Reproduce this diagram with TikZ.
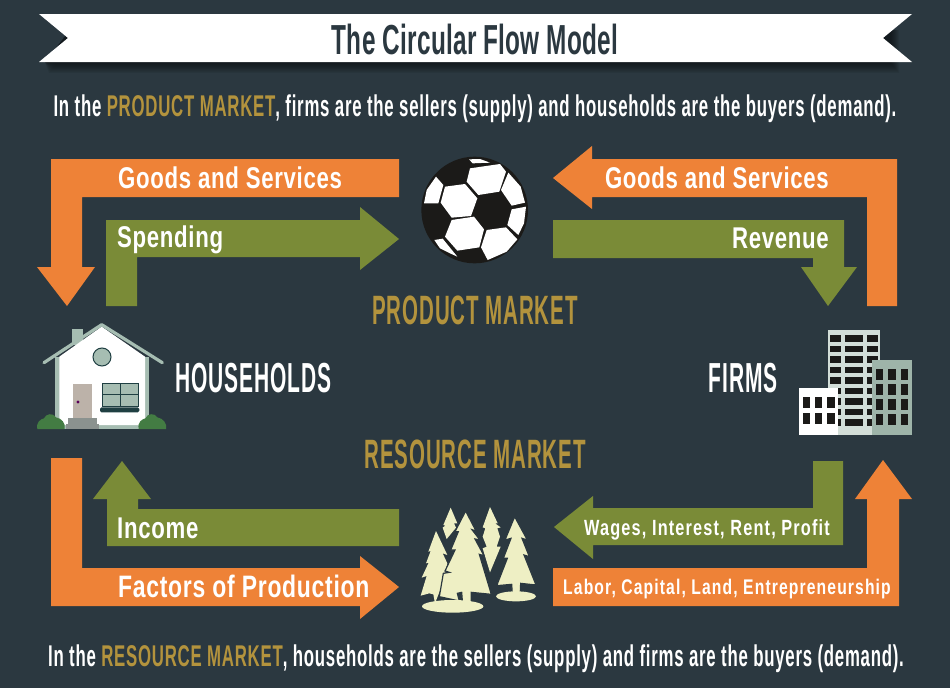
\documentclass[tikz,border=0pt]{standalone}
\usepackage{fontspec}
\setmainfont{Liberation Sans}
\newfontfamily\titlefont[FakeStretch=0.58,LetterSpace=0.6]{Liberation Sans Bold}
\newfontfamily\linefont[FakeStretch=0.56,LetterSpace=2.5]{Liberation Sans Bold}
\newfontfamily\placefont[FakeStretch=0.50,LetterSpace=2.2]{Liberation Sans Bold}
\newfontfamily\labelfont[FakeStretch=0.74,LetterSpace=2.3]{Liberation Sans Bold}
\newfontfamily\tinyfont[FakeStretch=0.74,LetterSpace=5.3]{Liberation Sans Bold}
\definecolor{bgslate}{HTML}{2B3840}
\definecolor{flowOrange}{HTML}{EE8237}
\definecolor{flowGreen}{HTML}{7A8B37}
\definecolor{marketGold}{HTML}{B3933D}
\definecolor{sage}{HTML}{A6BDB2}
\definecolor{pine}{HTML}{1F3F42}
\definecolor{cream}{HTML}{EEEFC4}
\definecolor{inkblack}{HTML}{1B1A18}
\begin{document}
\begin{tikzpicture}[x=1pt,y=-1pt,
    every node/.style={inner sep=0pt,anchor=base},
    goods/.style={fill=flowOrange},
    money/.style={fill=flowGreen},
    bigtext/.style={font=\labelfont\fontsize{30}{30}\selectfont,text=white},
    linetext/.style={font=\linefont\fontsize{30}{30}\selectfont,text=white},
    placetext/.style={font=\placefont\fontsize{42}{42}\selectfont,text=white},
    markettext/.style={font=\placefont\fontsize{41}{41}\selectfont,text=marketGold}]
 \useasboundingbox (0,0) rectangle (950,688);
 \fill[bgslate] (0,0) rectangle (950,688);
 \foreach \d in {1,...,9}
   \fill[black,opacity=.07] (70,30) -- (890+\d,30) -- (890+\d,62+\d*1.2) -- (58-\d,62+\d*1.2) -- (45,62) -- cycle;
 \fill[white] (39,14) -- (912,14) -- (883,38) -- (912,62) -- (39,62) -- (68,38) -- cycle;
 \node[font=\titlefont\fontsize{42}{42}\selectfont,text=bgslate] (title) at (475,54) {The Circular Flow Model};
 \node[linetext] (productline) at (475,116)
   {In the {\color{marketGold}PRODUCT MARKET}, firms are the sellers (supply) and households are the buyers (demand).};
 \node[linetext] (resourceline) at (476,666)
   {In the {\color{marketGold}RESOURCE MARKET}, households are the sellers (supply) and firms are the buyers (demand).};

 \fill[goods] (399,159) -- (51,159) -- (51,267) -- (37,267) -- (67,306) -- (95,267) -- (82,267) -- (82,197) -- (399,197) -- cycle;
 \fill[money] (106,306) -- (106,220) -- (360,220) -- (360,207) -- (399,239) -- (360,270) -- (360,257) -- (137,257) -- (137,306) -- cycle;
 \fill[goods] (553,178) -- (592,146) -- (592,159) -- (897,159) -- (897,306) -- (867,306) -- (867,197) -- (592,197) -- (592,209) -- cycle;
 \fill[money] (553,220) -- (844,220) -- (844,267) -- (857,267) -- (828,306) -- (801,267) -- (813,267) -- (813,258) -- (553,258) -- cycle;
 \fill[money] (122,461) -- (151,499) -- (138,499) -- (138,509) -- (399,509) -- (399,546) -- (107,546) -- (107,499) -- (93,499) -- cycle;
 \fill[goods] (51,458) -- (82,458) -- (82,568) -- (360,568) -- (360,556) -- (399,587) -- (360,619) -- (360,606) -- (51,606) -- cycle;
 \fill[money] (813,461) -- (843,461) -- (843,545) -- (593,545) -- (593,559) -- (554,527) -- (593,496) -- (593,508) -- (813,508) -- cycle;
 \fill[goods] (553,568) -- (867,568) -- (867,499) -- (855,499) -- (883,460) -- (912,499) -- (899,499) -- (899,606) -- (553,606) -- cycle;

 \node[bigtext,anchor=base west] (goodsleft) at (118,188) {Goods and Services};
 \node[bigtext,anchor=base east] (goodsright) at (829,188) {Goods and Services};
 \node[bigtext,anchor=base west] (spending) at (117,247) {Spending};
 \node[bigtext,anchor=base east] (revenue) at (829,248) {Revenue};
 \node[bigtext,anchor=base west] (income) at (117,538) {Income};
 \node[bigtext,font=\labelfont\fontsize{31}{31}\selectfont,anchor=base west] (factors) at (118,597) {Factors of Production};
 \node[bigtext,font=\tinyfont\fontsize{22}{22}\selectfont,anchor=base east] (wages) at (830,535) {Wages, Interest, Rent, Profit};
 \node[bigtext,font=\tinyfont\fontsize{21.2}{21.2}\selectfont,anchor=base east] (labor) at (891,594) {Labor, Capital, Land, Entrepreneurship};
 \node[markettext] (productmarket) at (475,324) {PRODUCT MARKET};
 \node[markettext] (resourcemarket) at (475,468) {RESOURCE MARKET};
 \node[placetext,anchor=base west] (households) at (175,392) {HOUSEHOLDS};
 \node[placetext,anchor=base east] (firms) at (778,392) {FIRMS};

 \begin{scope}[shift={(400,140)},scale=1/3]
   \fill[inkblack] (224,210) circle (160);
   \foreach \cell in {
       {(210,85) -- (300,72) -- (318,95) -- (298,155) -- (235,165) -- (200,125)},
       {(108,110) -- (130,135) -- (115,190) -- (72,190) -- (80,150)},
       {(135,140) -- (195,132) -- (232,175) -- (213,228) -- (155,233) -- (122,188)},
       {(325,98) -- (362,140) -- (375,188) -- (335,197) -- (303,150)},
       {(335,208) -- (378,200) -- (372,250) -- (355,285) -- (322,255)},
       {(155,240) -- (222,230) -- (252,268) -- (238,322) -- (172,332) -- (135,290)},
       {(260,270) -- (318,262) -- (352,298) -- (320,335) -- (263,360) -- (243,322)},
       {(103,300) -- (128,296) -- (172,350) -- (150,340) -- (120,325)},
       {(207,58) -- (240,57) -- (270,68) -- (218,70)}}
     \fill[white] \cell -- cycle;
 \end{scope}

 \begin{scope}[shift={(20,310)},scale=1/3]
   \fill[sage] (155,58) rectangle (190,105);
   \fill[sage] (105,140) rectangle (387,357);
   \fill[white] (118,140) -- (245,50) -- (375,140) -- (375,345) -- (118,345) -- cycle;
   \draw[sage,line width=3.2pt,line cap=round,line join=round] (72,158) -- (245,44) -- (427,158);
   \draw[fill=sage,draw=pine,line width=1pt] (246,141) circle (27);
   \fill[brown!25!gray!60] (158,222) rectangle (216,325);
   \fill[violet!70!black] (174,276) circle (5);
   \fill[gray!70!sage] (145,325) rectangle (230,342);
   \fill[gray!70!sage] (137,342) rectangle (236,357);
   \draw[fill=sage,draw=pine,line width=1pt] (247,220) rectangle (354,290);
   \draw[pine,line width=1pt] (300,220) -- (300,290) (247,253) -- (354,253);
   \fill[pine,rounded corners=1.5pt] (240,292) rectangle (358,307);
   \foreach \x in {0,304}
     \fill[green!30!gray!75!black,shift={(\x,0)}] (52,357) .. controls (48,335) and (62,328) .. (72,325)
       .. controls (78,310) and (100,308) .. (108,322) .. controls (125,325) and (138,340) .. (134,357) -- cycle;
 \end{scope}

 \begin{scope}[shift={(780,320)},scale=1/3]
   \fill[sage!50!white] (144,30) rectangle (300,346);
   \foreach \r in {46,77.5,109,140.5,172,203.5,235,266.5,298} {
     \fill[inkblack] (151,\r) rectangle ++(33,19);
     \fill[inkblack] (196,\r) rectangle ++(52,19);
     \fill[inkblack] (261,\r) rectangle ++(33,19);
   }
   \fill[sage!95!black] (276,120) rectangle (397,346);
   \foreach \c in {288,325,362}
     \foreach \r in {147,192,237,283}
       \fill[inkblack] (\c,\r) rectangle ++(22,32);
   \fill[white] (58,205) rectangle (174,346);
   \foreach \c in {68,104,142}
     \foreach \r in {232,278}
       \fill[inkblack] (\c,\r) rectangle ++(23,33);
 \end{scope}

 \begin{scope}[shift={(400,495)},scale=1/3]
   \fill[cream] (152,38) -- (172,85) -- (162,85) -- (168,98) -- (140,132) -- (128,98) -- (136,92) -- (130,90) -- cycle;
   \fill[cream] (270,36) -- (293,85) -- (285,85) -- (302,97) -- (292,100) -- (300,125) -- (290,155) -- (302,155) -- (270,232)
     -- (248,160) -- (260,155) -- (248,125) -- (256,100) -- (248,97) -- cycle;
   \fill[cream] (108,108) -- (142,180) -- (128,175) -- (142,205) -- (130,260) -- (105,325) -- (100,298) -- (88,295) -- (62,302)
     -- (80,243) -- (65,248) -- (86,203) -- (78,205) -- (92,168) -- (85,170) -- cycle;
   \draw[bgslate,line width=1.2pt,fill=cream] (197,48) -- (228,108) -- (216,104) -- (240,135) -- (225,132) -- (252,182)
     -- (238,178) -- (274,298) -- (214,292) -- (214,330) -- (188,330) -- (185,292) -- (172,295) -- (178,318)
     -- (118,305) -- (130,235) -- (148,232) -- (135,228) -- (165,165) -- (152,165) -- (175,110) -- (165,110) -- cycle;
   \draw[bgslate,line width=1.2pt,fill=cream] (344,65) -- (382,135) -- (366,130) -- (388,185) -- (372,180) -- (408,270)
     -- (362,265) -- (360,310) -- (338,310) -- (335,268) -- (290,272) -- (322,190) -- (310,190) -- (333,130)
     -- (315,135) -- cycle;
   \fill[cream] (158,334) ellipse (92 and 19);
   \fill[cream] (348,304) ellipse (60 and 15);
 \end{scope}
\end{tikzpicture}
\end{document}
